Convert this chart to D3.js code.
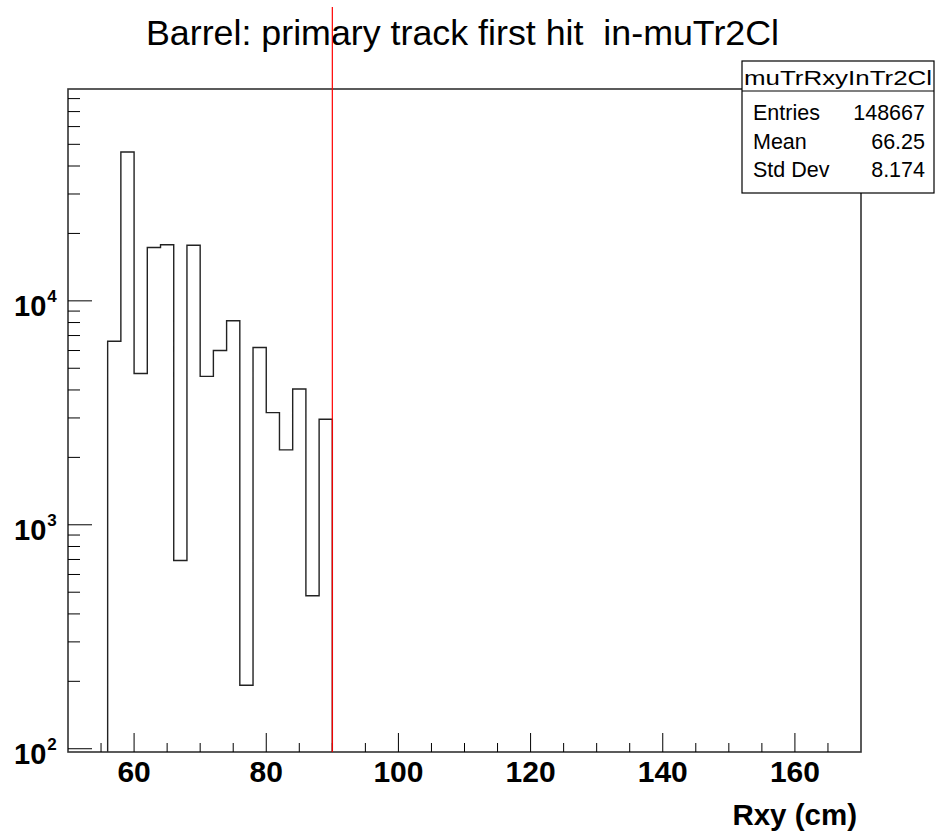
<!DOCTYPE html>
<html>
<head>
<meta charset="utf-8">
<script src="https://cdn.jsdelivr.net/npm/d3@7"></script>
<style>
  body { margin: 0; background: #fff; }
  svg { display: block; font-family: "Liberation Sans", Arial, Helvetica, sans-serif; }
</style>
</head>
<body>
<script>
// histogram bins (Rxy, cm): low edges and contents
const binEdges = [56, 58, 60, 62, 64, 66, 68, 70, 72, 74, 76, 78, 80, 82, 84, 86, 88, 90];
const binCounts = [6600, 46200, 4740, 17300, 17800, 693, 17700, 4600, 6000, 8150, 192, 6190, 3170, 2160, 4040, 482, 2960];

const xTicks = [60, 80, 100, 120, 140, 160];
const yDecades = [2, 3, 4];
const statsLabels = ["Entries", "Mean", "Std Dev"];
const statsValues = ["148667", "66.25", "8.174"];
const cutValue = 90;

const width = 936, height = 833;
const frame = { left: 68, right: 861, top: 89, bottom: 752 };

const svg = d3.select("body").append("svg")
  .attr("width", width)
  .attr("height", height);

const x = d3.scaleLinear().domain([50, 170]).range([frame.left, frame.right]);
const y = d3.scaleLog().domain([96.7, 88300]).range([frame.bottom, frame.top]);

// title
svg.append("text")
  .attr("x", 146).attr("y", 45)
  .attr("font-size", 35)
  .attr("textLength", 633)
  .attr("lengthAdjust", "spacingAndGlyphs")
  .text("Barrel: primary track first hit \u00a0in-muTr2Cl");

// histogram outline
const pts = [[x(binEdges[0]), frame.bottom]];
binCounts.forEach((c, i) => {
  pts.push([x(binEdges[i]), y(c)]);
  pts.push([x(binEdges[i + 1]), y(c)]);
});
pts.push([x(binEdges[binEdges.length - 1]), frame.bottom]);
svg.append("path")
  .attr("d", d3.line()(pts))
  .attr("fill", "none")
  .attr("stroke", "#222")
  .attr("stroke-width", 1.4);

// frame
svg.append("rect")
  .attr("x", frame.left).attr("y", frame.top)
  .attr("width", frame.right - frame.left)
  .attr("height", frame.bottom - frame.top)
  .attr("fill", "none")
  .attr("stroke", "#333")
  .attr("stroke-width", 1.6);

// x axis: major ticks every 20, minor every 5
const xMinor = d3.range(55, 170, 5).filter(v => v % 20 !== 0);
svg.append("g").selectAll("line").data(xMinor).join("line")
  .attr("x1", d => x(d)).attr("x2", d => x(d))
  .attr("y1", frame.bottom).attr("y2", frame.bottom - 9)
  .attr("stroke", "#000").attr("stroke-width", 1);
svg.append("g").selectAll("line").data(xTicks).join("line")
  .attr("x1", d => x(d)).attr("x2", d => x(d))
  .attr("y1", frame.bottom).attr("y2", frame.bottom - 19)
  .attr("stroke", "#000").attr("stroke-width", 1);
svg.append("g").selectAll("text").data(xTicks).join("text")
  .attr("x", d => x(d)).attr("y", 782)
  .attr("text-anchor", "middle")
  .attr("font-size", 30).attr("font-weight", "bold")
  .text(d => d);

svg.append("text")
  .attr("x", 857).attr("y", 825)
  .attr("text-anchor", "end")
  .attr("font-size", 29.5).attr("font-weight", "bold")
  .text("Rxy (cm)");

// y axis: log ticks
const yMinor = [];
[2, 3, 4].forEach(p => {
  for (let m = 2; m <= 9; m++) {
    const v = m * Math.pow(10, p);
    if (v <= y.domain()[1]) yMinor.push(v);
  }
});
svg.append("g").selectAll("line").data(yMinor).join("line")
  .attr("x1", frame.left).attr("x2", frame.left + 12)
  .attr("y1", d => y(d)).attr("y2", d => y(d))
  .attr("stroke", "#000").attr("stroke-width", 1);
svg.append("g").selectAll("line").data(yDecades).join("line")
  .attr("x1", frame.left).attr("x2", frame.left + 24)
  .attr("y1", d => y(Math.pow(10, d))).attr("y2", d => y(Math.pow(10, d)))
  .attr("stroke", "#000").attr("stroke-width", 1);
const yl = svg.append("g").selectAll("text").data(yDecades).join("text")
  .attr("x", 14).attr("y", d => y(Math.pow(10, d)) + 15)
  .attr("font-weight", "bold");
yl.append("tspan").attr("font-size", 29).text("10");
yl.append("tspan").attr("font-size", 17).attr("dy", -14).attr("dx", 1).text(d => d);

// cut line
svg.append("line")
  .attr("x1", x(cutValue)).attr("x2", x(cutValue))
  .attr("y1", 7).attr("y2", frame.bottom)
  .attr("stroke", "#ff0000").attr("stroke-width", 1.2);

// stats box
const box = { x: 742, y: 61, w: 192, h: 132, head: 30 };
const sb = svg.append("g");
sb.append("rect")
  .attr("x", box.x).attr("y", box.y).attr("width", box.w).attr("height", box.h)
  .attr("fill", "#fff").attr("stroke", "#000").attr("stroke-width", 1.2);
sb.append("line")
  .attr("x1", box.x).attr("x2", box.x + box.w)
  .attr("y1", box.y + box.head).attr("y2", box.y + box.head)
  .attr("stroke", "#000").attr("stroke-width", 1.2);
sb.append("text")
  .attr("x", box.x + 2).attr("y", box.y + 23.5)
  .attr("font-size", 21)
  .attr("textLength", 188)
  .attr("lengthAdjust", "spacingAndGlyphs")
  .text("muTrRxyInTr2Cl");
statsLabels.forEach((lab, i) => {
  const ty = 120 + i * 28.5;
  sb.append("text").attr("x", 753).attr("y", ty).attr("font-size", 21.5).text(lab);
  sb.append("text").attr("x", 925).attr("y", ty).attr("text-anchor", "end")
    .attr("font-size", 21.5).text(statsValues[i]);
});
</script>
</body>
</html>
